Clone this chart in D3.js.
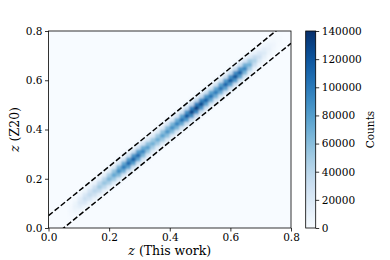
<!DOCTYPE html>
<html>
<head>
<meta charset="utf-8">
<script src="https://cdn.jsdelivr.net/npm/d3@7"></script>
<style>
  body { margin: 0; background: #fff; }
  svg { display: block; font-family: "DejaVu Serif", serif; }
</style>
</head>
<body>
<div id="chart"></div>
<script>
// histogram bins (0.016 wide on both axes, 50 x 50 over 0..0.8)
const binSize = 0.016
const nBins = 50
// cross-band offsets: row = column + offset
const bandOffsets = [-3, -2, -1, 0, 1, 2, 3]
// first x-bin index that has counts, then one row of counts per x-bin
const firstCol = 4
const bandCounts = [
  [100, 700, 2000, 3000, 2200, 800, 200],
  [400, 2000, 6100, 9000, 6700, 2300, 500],
  [800, 4400, 13600, 20000, 14800, 5200, 1200],
  [1200, 6600, 20400, 30000, 22200, 7800, 1800],
  [1400, 7700, 23800, 35000, 25900, 9100, 2100],
  [1600, 8800, 27200, 40000, 29600, 10400, 2400],
  [2000, 11000, 34000, 50000, 37000, 13000, 3000],
  [2200, 12100, 37400, 55000, 40700, 14300, 3300],
  [2600, 14300, 44200, 65000, 48100, 16900, 3900],
  [3000, 16500, 51000, 75000, 55500, 19500, 4500],
  [3600, 19800, 61200, 90000, 66600, 23400, 5400],
  [4000, 22000, 68000, 100000, 74000, 26000, 6000],
  [4400, 24200, 74800, 110000, 81400, 28600, 6600],
  [4600, 25300, 78200, 115000, 85100, 29900, 6900],
  [4400, 24200, 74800, 110000, 81400, 28600, 6600],
  [3800, 20900, 64600, 95000, 70300, 24700, 5700],
  [3200, 17600, 54400, 80000, 59200, 20800, 4800],
  [2800, 15400, 47600, 70000, 51800, 18200, 4200],
  [2900, 15800, 49000, 72000, 53300, 18700, 4300],
  [3100, 17200, 53000, 78000, 57700, 20300, 4700],
  [3400, 18700, 57800, 85000, 62900, 22100, 5100],
  [3500, 19400, 59800, 88000, 65100, 22900, 5300],
  [3800, 20900, 64600, 95000, 70300, 24700, 5700],
  [4200, 23100, 71400, 105000, 77700, 27300, 6300],
  [4700, 26000, 80200, 118000, 87300, 30700, 7100],
  [5100, 28200, 87000, 128000, 94700, 33300, 7700],
  [5300, 29000, 89800, 132000, 97700, 34300, 7900],
  [5000, 27500, 85000, 125000, 92500, 32500, 7500],
  [4500, 24600, 76200, 112000, 82900, 29100, 6700],
  [4200, 23100, 71400, 105000, 77700, 27300, 6300],
  [4000, 22000, 68000, 100000, 74000, 26000, 6000],
  [4200, 23100, 71400, 105000, 77700, 27300, 6300],
  [4500, 24600, 76200, 112000, 82900, 29100, 6700],
  [4700, 26000, 80200, 118000, 87300, 30700, 7100],
  [4900, 26800, 83000, 122000, 90300, 31700, 7300],
  [4600, 25300, 78200, 115000, 85100, 29900, 6900],
  [3800, 20900, 64600, 95000, 70300, 24700, 5700],
  [2800, 15400, 47600, 70000, 51800, 18200, 4200],
  [1800, 9900, 30600, 45000, 33300, 11700, 2700],
  [1100, 6200, 19000, 28000, 20700, 7300, 1700],
  [700, 4000, 12200, 18000, 13300, 4700, 1100],
  [400, 2200, 6800, 10000, 7400, 2600, 600],
  [200, 1100, 3400, 5000, 3700, 1300, 300],
  [100, 400, 1400, 2000, 1500, 500, 100]
]
// dashed guide lines: y = x + offset
const lineOffsets = [0.05, -0.05]

const axisTicks = [0, 0.2, 0.4, 0.6, 0.8]
const countTicks = [0, 20000, 40000, 60000, 80000, 100000, 120000, 140000]
const countMax = 140000

const width = 390, height = 260
const plot = {left: 48.5, right: 291, top: 31, bottom: 228}
const cbar = {left: 305.7, right: 315.7}

const svg = d3.select("#chart").append("svg")
    .attr("width", width).attr("height", height)

const x = d3.scaleLinear().domain([0, 0.8]).range([plot.left, plot.right])
const y = d3.scaleLinear().domain([0, 0.8]).range([plot.bottom, plot.top])
const color = d3.scaleSequential(d3.interpolateBlues).domain([0, countMax])

// cells
const cells = []
bandCounts.forEach((row, c) => {
    const col = firstCol + c
    row.forEach((v, k) => {
        const r = col + bandOffsets[k]
        if (r >= 0 && r < nBins) cells.push({col, row: r, v})
    })
})

const defs = svg.append("defs")
defs.append("clipPath").attr("id", "clip")
  .append("rect")
    .attr("x", plot.left).attr("y", plot.top)
    .attr("width", plot.right - plot.left).attr("height", plot.bottom - plot.top)
// soften the coarse bins a little, like the resampled original
defs.append("filter").attr("id", "soft")
    .attr("x", "-5%").attr("y", "-5%").attr("width", "110%").attr("height", "110%")
  .append("feGaussianBlur").attr("stdDeviation", 1.1)

svg.append("rect")
    .attr("x", plot.left).attr("y", plot.top)
    .attr("width", plot.right - plot.left).attr("height", plot.bottom - plot.top)
    .attr("fill", color(0))

svg.append("g").attr("clip-path", "url(#clip)")
  .append("g").attr("filter", "url(#soft)")
  .selectAll("rect").data(cells).join("rect")
    .attr("x", d => x(d.col * binSize))
    .attr("y", d => y((d.row + 1) * binSize))
    .attr("width", x(binSize) - x(0) + 0.4)
    .attr("height", y(0) - y(binSize) + 0.4)
    .attr("fill", d => color(d.v))

// dashed lines
svg.append("g").attr("clip-path", "url(#clip)")
  .selectAll("line").data(lineOffsets).join("line")
    .attr("x1", x(0)).attr("y1", d => y(0 + d))
    .attr("x2", x(0.8)).attr("y2", d => y(0.8 + d))
    .attr("stroke", "#000")
    .attr("stroke-width", 1.5)
    .attr("stroke-dasharray", "5.5,2.4")

// axes
const tickFmt = d3.format(".1f")
const xAxis = svg.append("g")
    .attr("transform", `translate(0,${plot.bottom})`)
    .call(d3.axisBottom(x).tickValues(axisTicks).tickFormat(tickFmt).tickSize(3.5).tickPadding(2.5))
const yAxis = svg.append("g")
    .attr("transform", `translate(${plot.left},0)`)
    .call(d3.axisLeft(y).tickValues(axisTicks).tickFormat(tickFmt).tickSize(3.5).tickPadding(2.5))
for (const g of [xAxis, yAxis]) {
    g.select(".domain").remove()
    g.selectAll("line").attr("stroke", "#000").attr("stroke-width", 0.8)
    g.selectAll("text").attr("fill", "#000")
        .style("font-family", "DejaVu Serif").style("font-size", "10.5px")
}

svg.append("rect")
    .attr("x", plot.left).attr("y", plot.top)
    .attr("width", plot.right - plot.left).attr("height", plot.bottom - plot.top)
    .attr("fill", "none").attr("stroke", "#000").attr("stroke-width", 0.8)

// axis labels
const xl = svg.append("text")
    .attr("x", (plot.left + plot.right) / 2).attr("y", 255)
    .attr("text-anchor", "middle").style("font-size", "12.5px")
xl.append("tspan").attr("font-style", "italic").text("z")
xl.append("tspan").text(" (This work)")

const yl = svg.append("text")
    .attr("transform", `translate(19,${(plot.top + plot.bottom) / 2}) rotate(-90)`)
    .attr("text-anchor", "middle").style("font-size", "12.5px")
yl.append("tspan").attr("font-style", "italic").text("z")
yl.append("tspan").text(" (Z20)")

// colorbar
const cy = d3.scaleLinear().domain([0, countMax]).range([plot.bottom, plot.top])
const grad = defs.append("linearGradient")
    .attr("id", "cbgrad").attr("x1", 0).attr("y1", 1).attr("x2", 0).attr("y2", 0)
grad.selectAll("stop").data(d3.range(0, 1.0001, 0.05)).join("stop")
    .attr("offset", d => d)
    .attr("stop-color", d => d3.interpolateBlues(d))
svg.append("rect")
    .attr("x", cbar.left).attr("y", plot.top)
    .attr("width", cbar.right - cbar.left).attr("height", plot.bottom - plot.top)
    .attr("fill", "url(#cbgrad)")
    .attr("stroke", "#000").attr("stroke-width", 0.8)

const cAxis = svg.append("g")
    .attr("transform", `translate(${cbar.right},0)`)
    .call(d3.axisRight(cy).tickValues(countTicks).tickFormat(d3.format("d")).tickSize(3.5).tickPadding(2.5))
cAxis.select(".domain").remove()
cAxis.selectAll("line").attr("stroke", "#000").attr("stroke-width", 0.8)
cAxis.selectAll("text").attr("fill", "#000")
    .style("font-family", "DejaVu Serif").style("font-size", "10.5px")

svg.append("text")
    .attr("transform", `translate(374,${(plot.top + plot.bottom) / 2}) rotate(-90)`)
    .attr("text-anchor", "middle").style("font-size", "10.5px")
    .text("Counts")
</script>
</body>
</html>
